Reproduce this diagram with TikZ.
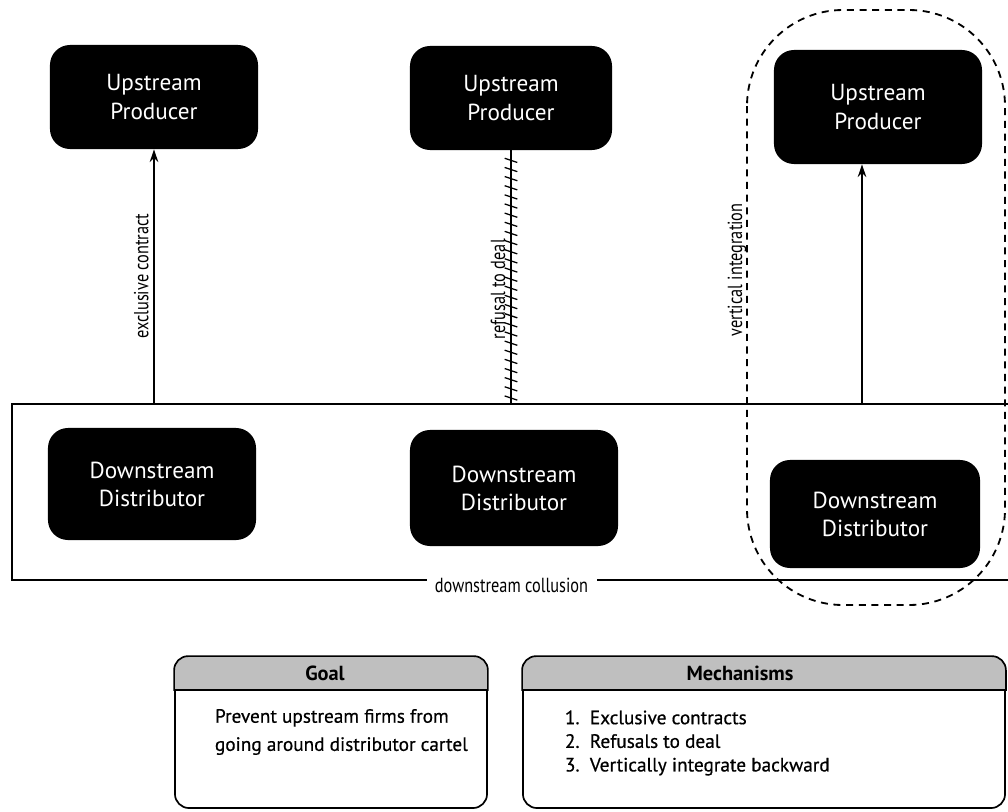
\documentclass[tikz,border=0pt]{standalone}
\usepackage{fontspec}
\setmainfont{PT Sans}
\newfontfamily\narrowfont[FakeStretch=0.8]{PT Sans}
\newfontfamily\heavyfont[FakeBold=0.6]{PT Sans}
\usetikzlibrary{positioning,arrows.meta,decorations.markings}

\tikzset{
	firm/.style   = {fill=black, text=white, rounded corners=0.5cm, align=center,
	                 font=\fontsize{16.5}{20}\selectfont},
	tag/.style    = {font=\narrowfont\fontsize{14.5}{16}\selectfont},
	panel/.style  = {draw, line width=1.2pt, rounded corners=0.35cm},
	hdr/.style    = {draw, line width=1.2pt, fill=gray!50},
	refuse/.style = {postaction={decorate}, decoration={markings,
	                 mark=between positions 0.02 and 0.99 step 6.5pt with
	                 {\draw[line width=0.9pt] (-1.5pt,-4.5pt) -- (1.5pt,4.5pt);}}}
}

\begin{document}
\begin{tikzpicture}[x=0.025cm, y=-0.025cm, >={Stealth[length=9pt,width=6pt]}]
		\useasboundingbox (0,0) rectangle (1008,811);

		\node[firm, minimum width=5.2cm, minimum height=2.6cm] (up1) at (154,97) {Upstream\\Producer};
		\node[firm, minimum width=5.05cm, minimum height=2.6cm] (up2) at (511,98) {Upstream\\Producer};
		\node[firm, minimum width=5.2cm, minimum height=2.85cm] (up3) at (878,107) {Upstream\\Producer};

		\node[draw, line width=1.3pt, minimum width=24.975cm, minimum height=4.4cm] (coll) at (511.5,492) {};

		\node[firm, minimum width=5.2cm, minimum height=2.8cm] (dn1) at (152,484) {Downstream\\Distributor};
		\node[firm, minimum width=5.2cm, minimum height=2.9cm] (dn2) at (514,488) {Downstream\\Distributor};
		\node[firm, minimum width=5.25cm, minimum height=2.7cm] (dn3) at (875,514) {Downstream\\Distributor};

		\node[tag, fill=white, inner xsep=6pt] (colltag) at ([yshift=-3pt]coll.south) {downstream collusion};

		\draw[dashed, dash pattern=on 5pt off 4pt, line width=1.3pt, rounded corners=2.4cm]
		(747,10) rectangle (1005,605);
		\node[tag, rotate=90] (vilabel) at (737,270) {vertical integration};

		\path
		(coll.north -| up1.south) edge [->, line width=1pt] node [tag, midway, above, sloped] {exclusive contract} (up1.south)
		(coll.north -| up2.south) edge [refuse, line width=1.2pt] node [tag, pos=0.45, above, sloped] {refusal to deal} (up2.south)
		([xshift=-0.4cm]coll.north -| up3.south) edge [->, line width=1pt] ([xshift=-0.4cm]up3.south);

		\node[panel, minimum width=7.8cm, minimum height=3.775cm] (goal) at (331,732.5) {};
		\node[panel, minimum width=12.05cm, minimum height=3.775cm] (mech) at (764,732.5) {};
		\coordinate (hdrline) at (0,690);
		\draw[hdr] (goal.west |- hdrline) [rounded corners=0.35cm] -- (goal.north west) -- (goal.north east)
		[sharp corners] -- (goal.east |- hdrline) -- cycle;
		\draw[hdr] (mech.west |- hdrline) [rounded corners=0.35cm] -- (mech.north west) -- (mech.north east)
		[sharp corners] -- (mech.east |- hdrline) -- cycle;
		\node[font=\bfseries\fontsize{14.5}{16}\selectfont] (goaltitle) at (325,673) {Goal};
		\node[font=\bfseries\fontsize{14.5}{16}\selectfont] (mechtitle) at (740,673) {Mechanisms};

		\node[anchor=west, align=left, font=\heavyfont\fontsize{13.7}{20}\selectfont] (goaltext) at (210,732)
		{Prevent upstream firms from\\going around distributor cartel};
		\node[anchor=west, align=left, font=\heavyfont\fontsize{13.7}{16.8}\selectfont] (mechtext) at (560,743)
		{1.\ \ Exclusive contracts\\2.\ \ Refusals to deal\\3.\ \ Vertically integrate backward};
\end{tikzpicture}
\end{document}
